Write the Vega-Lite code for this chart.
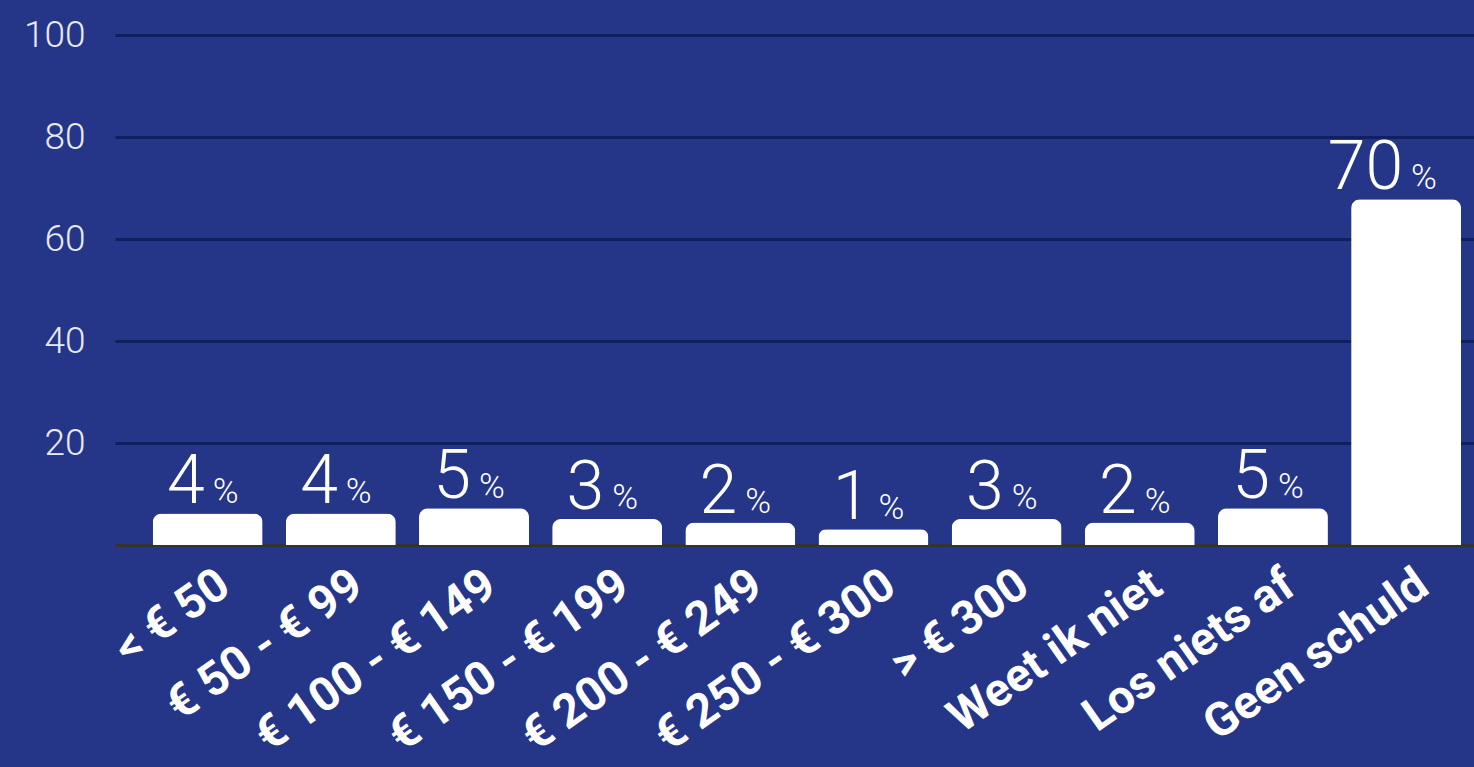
{
  "$schema": "https://vega.github.io/schema/vega-lite/v6.json",
  "width": 1359,
  "height": 510,
  "autosize": "none",
  "padding": {"left": 115, "top": 35, "right": 0, "bottom": 222},
  "background": "#253588",
  "config": {
    "view": {"stroke": null},
    "font": "Roboto"
  },
  "data": {
    "values": [
      {"categorie": "< € 50", "hoogte": 6.2, "pct": "4"},
      {"categorie": "€ 50 - € 99", "hoogte": 6.2, "pct": "4"},
      {"categorie": "€ 100 - € 149", "hoogte": 7.2, "pct": "5"},
      {"categorie": "€ 150 - € 199", "hoogte": 5.1, "pct": "3"},
      {"categorie": "€ 200 - € 249", "hoogte": 4.4, "pct": "2"},
      {"categorie": "€ 250 - € 300", "hoogte": 3.1, "pct": "1"},
      {"categorie": "> € 300", "hoogte": 5.1, "pct": "3"},
      {"categorie": "Weet ik niet", "hoogte": 4.4, "pct": "2"},
      {"categorie": "Los niets af", "hoogte": 7.2, "pct": "5"},
      {"categorie": "Geen schuld", "hoogte": 67.8, "pct": "70"}
    ]
  },
  "encoding": {
    "x": {
      "field": "categorie",
      "type": "nominal",
      "sort": null,
      "title": null,
      "scale": {"paddingInner": 0.174, "paddingOuter": 0.19, "align": 0.745},
      "axis": {
        "domain": true,
        "domainColor": "#333333",
        "domainWidth": 3,
        "ticks": false,
        "grid": false,
        "labelAngle": -35,
        "labelAlign": "right",
        "labelBaseline": "top",
        "labelPadding": 16,
        "labelOffset": 4,
        "labelFont": "Roboto",
        "labelFontWeight": "bold",
        "labelFontSize": 47,
        "labelColor": "#ffffff",
        "labelLimit": 600,
        "labelOverlap": false,
        "labelBound": false
      }
    },
    "y": {
      "field": "hoogte",
      "type": "quantitative",
      "title": null,
      "scale": {"domain": [0, 100], "nice": false},
      "axis": {
        "values": [20, 40, 60, 80, 100],
        "domain": false,
        "ticks": false,
        "grid": true,
        "gridColor": "#0f1f60",
        "gridWidth": 3,
        "labelFont": "Roboto",
        "labelFontWeight": 300,
        "labelFontSize": 37,
        "labelColor": "#e8ebf5",
        "labelPadding": 30
      }
    }
  },
  "layer": [
    {
      "mark": {
        "type": "bar",
        "color": "#ffffff",
        "cornerRadiusTopLeft": 9,
        "cornerRadiusTopRight": 9
      }
    },
    {
      "mark": {
        "type": "text",
        "align": "right",
        "baseline": "alphabetic",
        "dx": -3,
        "dy": -10,
        "font": "Roboto",
        "fontWeight": 300,
        "fontSize": 68,
        "color": "#ffffff"
      },
      "encoding": {"text": {"field": "pct"}}
    },
    {
      "mark": {
        "type": "text",
        "align": "left",
        "baseline": "alphabetic",
        "dx": 5,
        "dy": -10,
        "font": "Roboto",
        "fontWeight": 300,
        "fontSize": 35,
        "color": "#ffffff",
        "text": "%"
      },
      "encoding": {}
    }
  ]
}
